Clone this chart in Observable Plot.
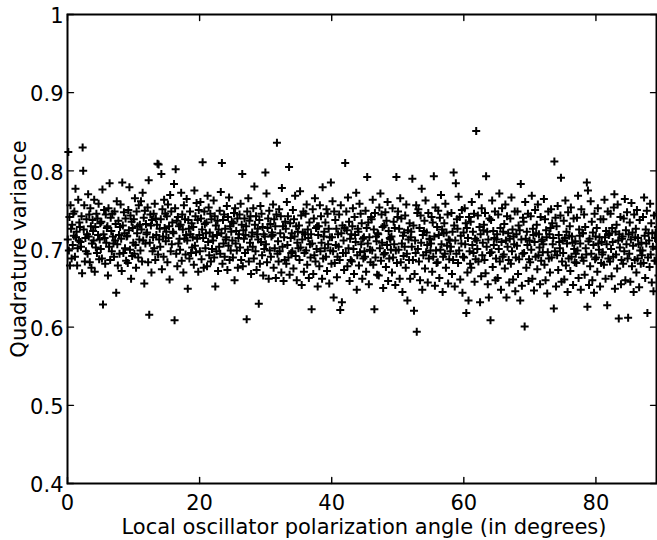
<!DOCTYPE html>
<html><head><meta charset="utf-8">
<script src="https://cdn.jsdelivr.net/npm/d3@7"></script>
<script src="https://cdn.jsdelivr.net/npm/@observablehq/plot@0.6"></script>
<style>html,body{margin:0;padding:0;background:#fff;}</style>
</head><body><div id="chart"></div>
<script>
const xTicks = [0, 20, 40, 60, 80];
const yTicks = [0.4, 0.5, 0.6, 0.7, 0.8, 0.9, 1];
const xLabel = "Local oscillator polarization angle (in degrees)";
const yLabel = "Quadrature variance";
const xDomain = [0, 89.17];
const yDomain = [0.4, 1];
// quadrature variance (x1000), one row per degree of polarization angle, 12 samples per degree
const varianceRows = [
[712,824,698,741,679,756,726,688,731,705,745,717],
[748,690,777,715,722,679,701,763,711,734,728,709],
[703,742,669,830,800,725,756,684,714,697,738,719],
[694,770,716,744,683,752,729,676,707,737,723,711],
[763,671,728,702,745,695,739,718,758,687,712,733],
[700,735,688,776,629,719,750,714,681,744,708,727],
[729,666,752,703,784,686,740,723,697,745,716,707],
[690,748,711,732,644,761,706,679,736,718,694,728],
[757,713,672,785,730,695,747,720,701,739,685,716],
[717,682,750,724,779,699,743,662,735,691,727,708],
[738,694,765,705,676,748,720,729,689,756,712,731],
[698,761,725,684,772,711,740,656,749,707,732,719],
[721,753,683,788,616,708,744,730,670,737,697,715],
[745,701,758,686,739,718,731,809,693,808,712,726],
[703,738,796,674,751,716,690,763,727,745,710,722],
[742,683,757,714,729,661,769,697,748,706,734,722],
[720,783,609,752,802,694,736,678,741,707,729,713],
[699,731,772,685,744,725,670,756,713,738,693,718],
[764,711,649,737,726,688,748,719,695,733,702,715],
[728,680,775,704,742,696,759,713,737,671,750,718],
[697,760,739,687,725,811,714,676,748,732,701,720],
[734,678,768,709,753,692,721,745,684,738,700,716],
[711,762,689,742,652,730,697,718,736,672,725,703],
[749,694,773,720,810,681,737,707,744,690,726,712],
[715,755,673,741,704,766,686,729,698,722,735,711],
[689,733,746,660,752,707,723,698,739,676,714,719],
[744,702,758,686,731,796,678,724,713,739,695,718],
[729,610,748,699,765,684,736,708,742,668,716,721],
[703,752,688,780,731,697,742,673,719,726,712,630],
[737,681,755,709,745,692,728,666,719,700,716,798],
[706,771,683,727,739,662,749,698,732,690,716,721],
[718,757,676,738,701,729,663,744,836,694,710,684],
[751,697,720,742,670,778,703,729,659,715,686,735],
[726,681,760,705,742,689,805,667,733,714,695,720],
[697,750,675,738,716,768,691,729,660,708,722,701],
[730,686,774,702,743,654,712,721,748,671,695,719],
[745,698,757,680,725,714,663,734,706,689,719,623],
[707,751,668,739,692,765,684,727,700,729,652,718],
[729,678,756,697,742,708,662,779,688,716,722,701],
[734,690,751,672,745,706,726,656,715,698,785,681],
[715,761,697,638,748,682,737,705,726,664,690,719],
[703,744,686,622,756,720,632,730,695,711,673,727],
[810,695,748,724,678,766,701,735,659,713,686,719],
[684,729,752,700,668,741,718,709,772,648,692,726],
[722,679,758,696,745,706,733,662,713,688,715,697],
[690,749,671,727,792,707,734,655,715,699,683,741],
[738,698,763,680,725,623,746,689,716,710,667,720],
[719,666,753,701,771,685,744,708,728,650,693,730],
[695,747,677,736,705,760,659,723,688,714,712,699],
[716,670,752,689,735,706,727,654,698,792,682,741],
[748,699,726,662,765,683,739,707,645,717,691,721],
[703,743,676,757,694,634,724,712,686,733,662,715],
[722,703,790,686,730,621,668,711,695,756,594,746],
[700,751,684,727,660,743,708,777,648,718,692,723],
[736,675,762,696,721,705,657,746,688,713,712,698],
[707,741,671,734,690,793,716,653,753,698,682,728],
[683,749,718,663,740,699,769,706,725,645,690,720],
[733,694,758,676,721,704,744,656,712,687,711,697],
[703,746,668,722,686,798,730,652,711,784,694,738],
[726,682,767,698,741,661,717,707,750,644,690,721],
[689,752,706,733,618,727,670,714,634,741,697,681],
[735,676,760,705,722,695,745,658,713,687,851,711],
[700,743,684,770,728,632,719,665,752,692,708,724],
[731,686,746,669,793,703,722,655,712,638,739,695],
[609,737,696,762,677,723,705,714,748,660,688,712],
[719,663,744,700,771,684,727,648,709,752,690,722],
[693,732,675,757,711,638,742,703,720,686,657,713],
[739,681,766,697,725,661,716,706,748,646,689,719],
[704,748,668,730,687,724,634,783,712,653,694,740],
[735,695,601,760,713,676,722,705,745,659,687,711],
[683,742,699,768,662,726,718,647,709,750,690,720],
[731,674,757,692,719,702,655,741,685,710,712,696],
[706,764,680,738,660,724,715,643,696,748,688,719],
[670,727,751,689,733,706,714,624,812,697,740,652],
[729,692,755,673,718,709,701,743,791,658,684,711],
[695,736,661,714,762,679,722,707,645,747,688,717],
[729,672,753,690,716,708,654,739,700,683,710,694],
[682,740,698,768,663,725,717,707,648,751,689,720],
[720,685,744,667,728,701,693,785,626,775,710,654],
[713,678,761,694,735,660,721,705,644,745,687,716],
[689,727,671,752,707,699,715,652,738,682,709,693],
[696,738,680,763,715,662,723,706,628,748,688,718],
[720,684,745,700,665,727,709,690,753,770,649,722],
[693,731,675,757,711,611,719,702,741,655,686,713],
[716,681,739,697,764,660,724,706,747,688,612,719],
[694,734,658,712,759,678,721,704,645,744,686,715],
[726,670,750,688,714,706,651,737,698,681,708,692],
[698,741,682,766,717,663,725,707,749,618,689,720],
[711,677,758,693,733,657,720,703,646,743,685,714],
[721,685,745,701,728,666,709,692,738,654,800,600]
];

const points = [];
varianceRows.forEach((row, deg) => {
  row.forEach((v, j) => points.push({angle: deg + (j + 0.5) / row.length, variance: v / 1000}));
});

const plusSymbol = {
  draw(ctx, size) {
    const r = Math.sqrt(size / Math.PI);
    ctx.moveTo(-r, 0); ctx.lineTo(r, 0);
    ctx.moveTo(0, -r); ctx.lineTo(0, r);
  }
};
const tickShape = {draw(ctx, l) { ctx.moveTo(0, 0); ctx.lineTo(0, -l); }};
const tickStyle = {length: 6, anchor: "start", shape: tickShape, stroke: "black", strokeWidth: 1.4};

const chart = Plot.plot({
  width: 657,
  height: 540,
  marginLeft: 67,
  marginRight: 1,
  marginTop: 14,
  marginBottom: 57,
  style: {fontFamily: "DejaVu Sans", fontSize: "21px", color: "black", background: "white"},
  x: {domain: xDomain},
  y: {domain: yDomain},
  marks: [
    Plot.dot(points, {x: "angle", y: "variance", symbol: plusSymbol, r: 4, stroke: "black", strokeWidth: 2, fill: "none"}),
    Plot.vector(xTicks, {x: d => d, frameAnchor: "bottom", rotate: 0, ...tickStyle}),
    Plot.vector(xTicks, {x: d => d, frameAnchor: "top", rotate: 180, ...tickStyle}),
    Plot.vector(yTicks, {y: d => d, frameAnchor: "left", rotate: 90, ...tickStyle}),
    Plot.vector(yTicks, {y: d => d, frameAnchor: "right", rotate: -90, ...tickStyle}),
    Plot.frame({stroke: "black", strokeWidth: 2}),
    Plot.axisX(xTicks, {tickSize: 0, tickPadding: 12, label: null, tickFormat: d => String(d)}),
    Plot.axisY(yTicks, {tickSize: 0, tickPadding: 4, dy: 2, label: null, tickFormat: d => d === 1 ? "1" : d.toFixed(1)}),
    Plot.text([xLabel], {text: d => d, frameAnchor: "bottom", dy: 50, dx: 2, lineAnchor: "bottom", textAnchor: "middle", fill: "black"}),
    Plot.text([yLabel], {text: d => d, frameAnchor: "left", dx: -42, rotate: -90, lineAnchor: "bottom", textAnchor: "middle", fill: "black"})
  ]
});
document.getElementById("chart").appendChild(chart);
</script>
</body></html>
